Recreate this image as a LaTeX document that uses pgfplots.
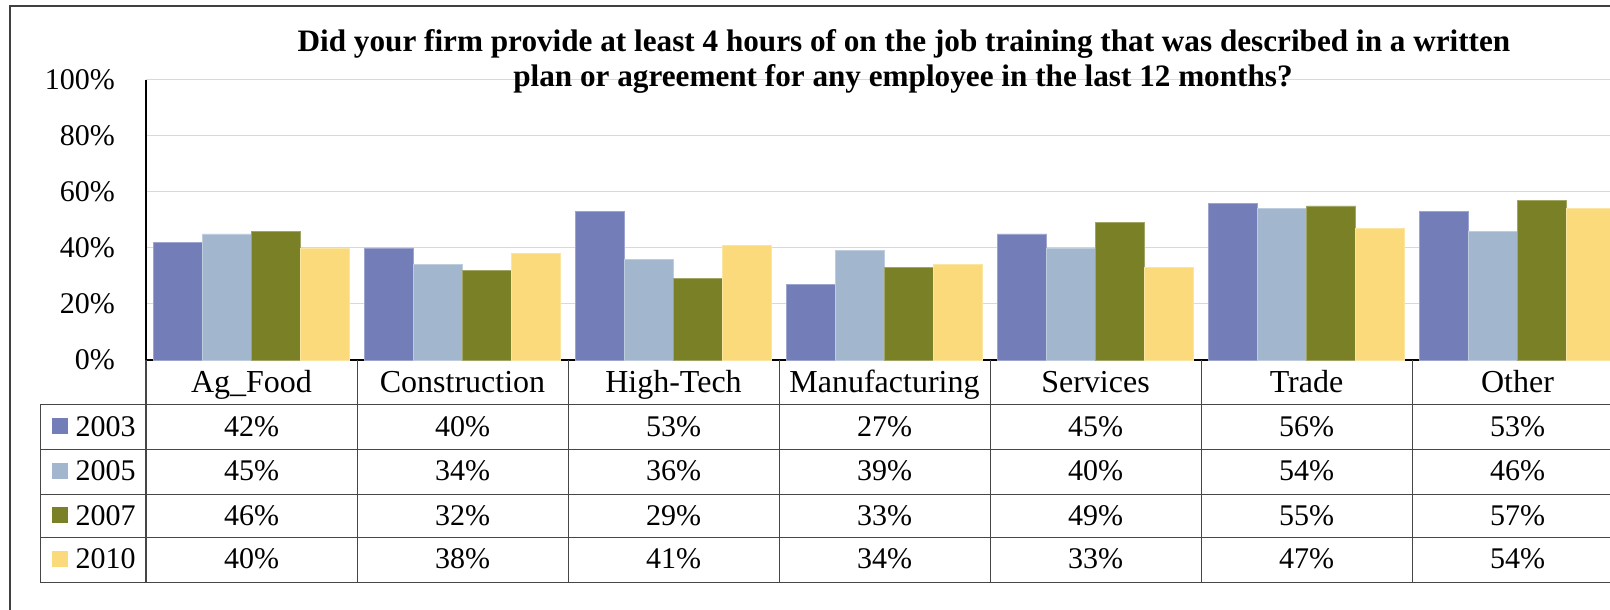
\documentclass[border=0pt]{standalone}
\usepackage{fontspec}
\setmainfont{Liberation Serif}
\usepackage{pgfplots}
\usepackage{pgfplotstable}
\pgfplotsset{compat=1.18}

\definecolor{c2003}{RGB}{115,125,184}
\definecolor{c2005}{RGB}{162,183,206}
\definecolor{c2007}{RGB}{121,128,38}
\definecolor{c2010}{RGB}{250,218,122}
\definecolor{gridc}{RGB}{212,219,223}
\definecolor{tabc}{RGB}{70,70,70}

\newcommand\tabfont{\fontsize{30}{36}\selectfont}
\newcommand\headfont{\fontsize{32}{38}\selectfont}
\newcommand\titlefont{\fontsize{31.2}{36}\selectfont\bfseries}

% x = category index; values in percent
\pgfplotstableread{
x y2003 y2005 y2007 y2010
0 42 45 46 40
1 40 34 32 38
2 53 36 29 41
3 27 39 33 34
4 45 40 49 33
5 56 54 55 47
6 53 46 57 54
}\data

% one row of the data table under the bars
\newcommand\tablerow[2]{%
  \addplot[draw=none, mark=none, nodes near coords={\pgfplotspointmeta\%},
    point meta=explicit symbolic,
    every node near coord/.append style={anchor=base, inner sep=0pt, font=\tabfont}]
    table[x=x, y expr=#2, meta=#1] {\data};}
\newcommand\legcell[3]{%
  \node[anchor=base west, inner sep=0pt, font=\tabfont] at (axis cs:-1,#3)
    {\hspace{11.5pt}\textcolor{#1}{\rule[2pt]{16pt}{16pt}}\hspace{7.5pt}#2};}

\begin{document}
\begin{tikzpicture}[x=1pt,y=1pt]
\begin{scope}
\clip (0,0) rectangle (1610,610);
\draw[black!75, line width=1.3pt] (10,-20) -- (10,604) -- (1700,604);

\begin{axis}[
    at={(146pt,250pt)}, anchor=south west,
    scale only axis, width=1477pt, height=280pt,
    xmin=-0.5, xmax=6.5, ymin=0, ymax=100,
    clip=false,
    axis lines*=left,
    axis line style={black, line width=1.2pt},
    ytick={0,20,...,100},
    yticklabels={0\%,20\%,40\%,60\%,80\%,100\%},
    xtick={0,...,6},
    xticklabels={Ag\_Food,Construction,High-Tech,Manufacturing,Services,Trade,Other},
    major tick length=0pt,
    ymajorgrids,
    grid style={draw=gridc, line width=1pt},
    yticklabel style={font=\tabfont, anchor=east, inner sep=0pt, xshift=-31pt},
    xticklabel style={font=\headfont, anchor=base, inner sep=0pt, yshift=-33pt},
]
\addplot[ybar, bar width=49pt, bar shift=-73.5pt, fill=c2003, draw=c2003!70!white, line width=0.8pt]
    table[x=x, y=y2003] {\data};
\addplot[ybar, bar width=49pt, bar shift=-24.5pt, fill=c2005, draw=c2005!70!white, line width=0.8pt]
    table[x=x, y=y2005] {\data};
\addplot[ybar, bar width=49pt, bar shift=24.5pt, fill=c2007, draw=c2007!70!white, line width=0.8pt]
    table[x=x, y=y2007] {\data};
\addplot[ybar, bar width=49pt, bar shift=73.5pt, fill=c2010, draw=c2010!70!white, line width=0.8pt]
    table[x=x, y=y2010] {\data};

\tablerow{y2003}{-27.3}
\tablerow{y2005}{-43.2}
\tablerow{y2007}{-59.1}
\tablerow{y2010}{-74.6}

% table rules
\pgfplotsinvokeforeach{-0.5,0.5,1.5,2.5,3.5,4.5,5.5,6.5}{
  \draw[tabc, line width=1pt] (axis cs:#1,0) -- (axis cs:#1,-79.64);}
\pgfplotsinvokeforeach{-16.07,-32.14,-47.86,-63.57,-79.64}{
  \draw[tabc, line width=1pt] (axis cs:-1,#1) -- (axis cs:6.5,#1);}
\draw[tabc, line width=1pt] (axis cs:-1,-16.07) -- (axis cs:-1,-79.64);

\legcell{c2003}{2003}{-27.3}
\legcell{c2005}{2005}{-43.2}
\legcell{c2007}{2007}{-59.1}
\legcell{c2010}{2010}{-74.6}
\end{axis}

\node[anchor=base, inner sep=0pt, font=\titlefont] at (904,558)
  {Did your firm provide at least 4 hours of on the job training that was described in a written};
\node[anchor=base, inner sep=0pt, font=\titlefont] at (903,523)
  {plan or agreement for any employee in the last 12 months?};
\end{scope}
\pgfresetboundingbox
\useasboundingbox (0,0) rectangle (1610,610);
\end{tikzpicture}
\end{document}
